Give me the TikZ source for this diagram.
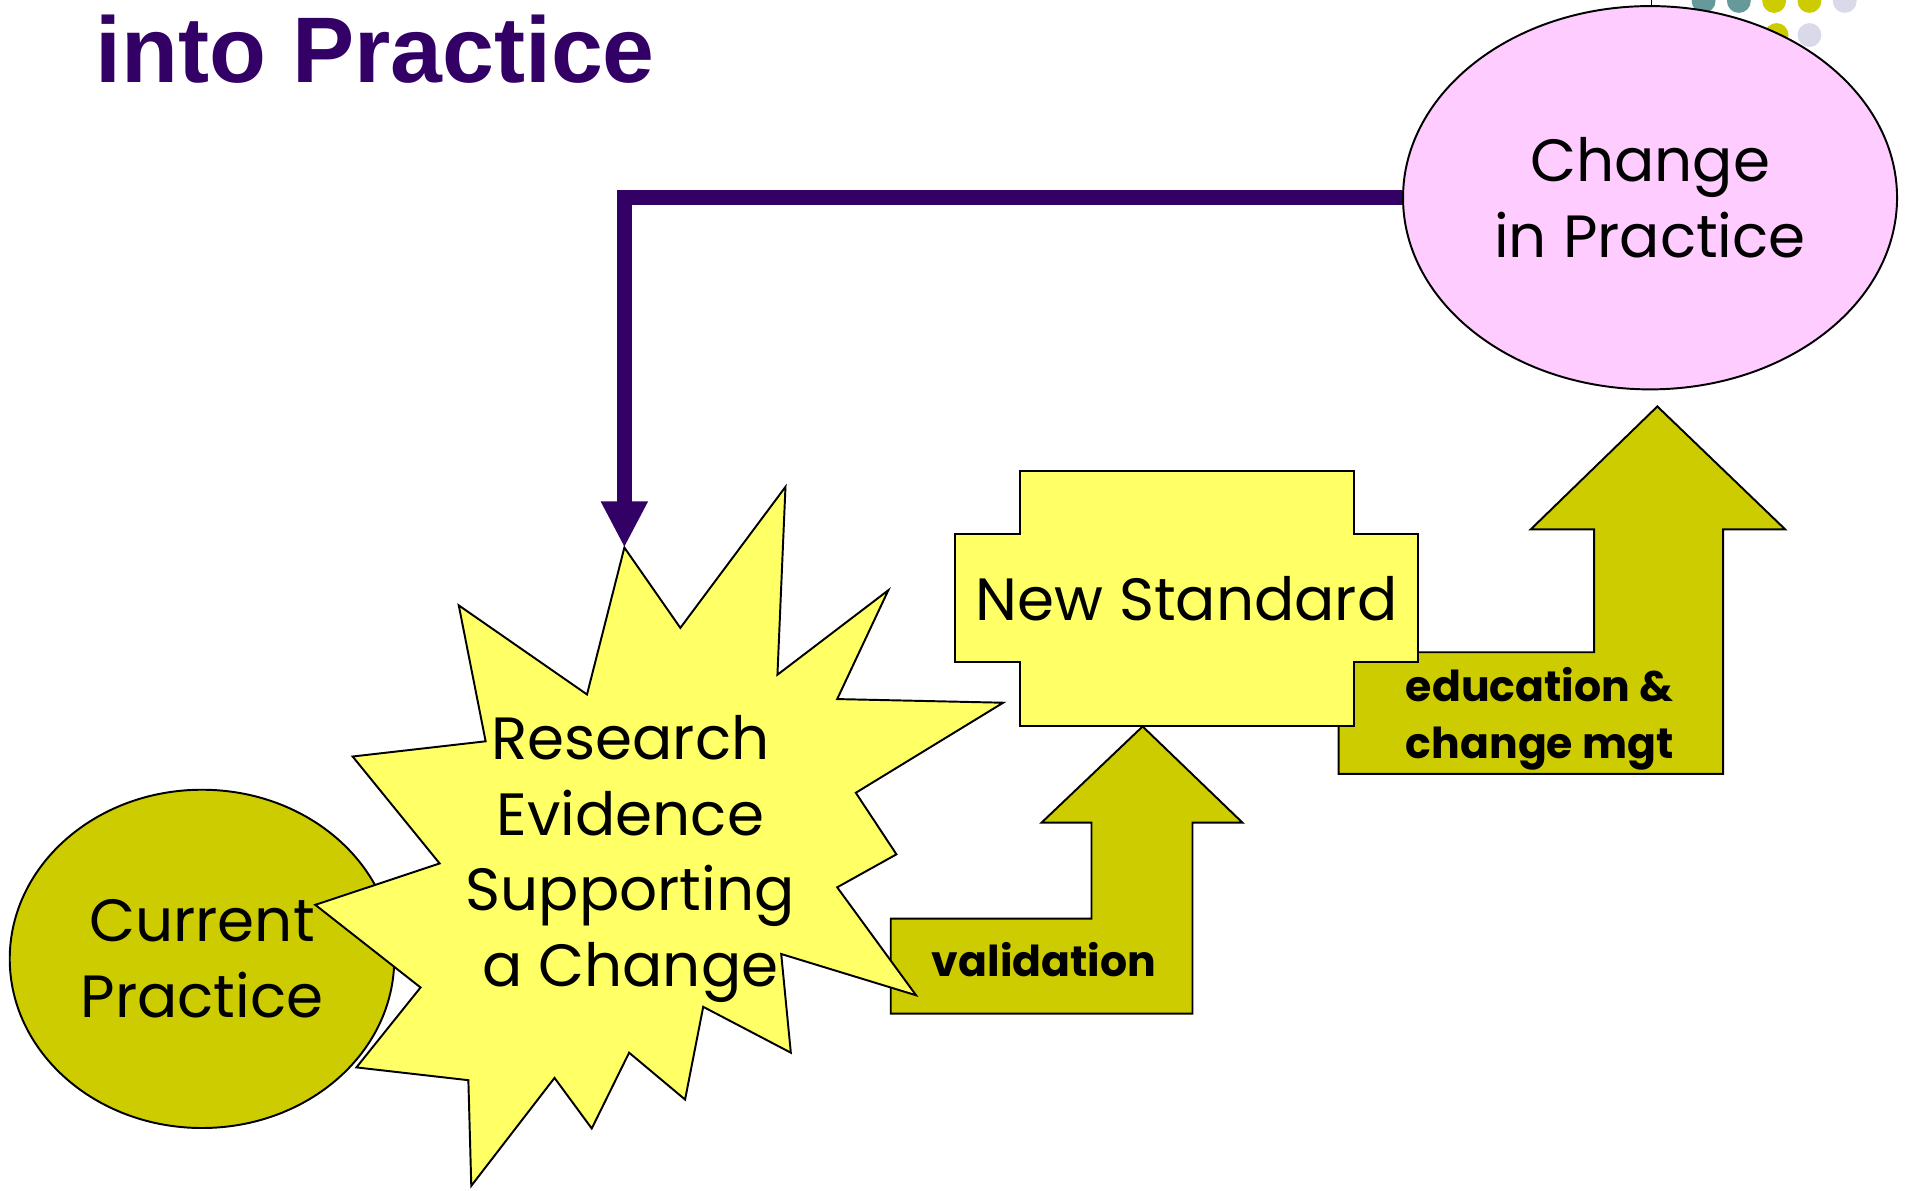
\documentclass[tikz,border=0pt]{standalone}
\usepackage{fontspec}
\setmainfont{Liberation Sans}
\newfontfamily\comic{Poppins}
\usetikzlibrary{shapes.geometric,arrows.meta}
\definecolor{pale}{HTML}{FFFF66}
\definecolor{olive}{HTML}{CCCC00}
\definecolor{pinkfill}{HTML}{FFCCFF}
\definecolor{deeppurple}{HTML}{330066}
\definecolor{tealdot}{HTML}{669999}
\definecolor{lavdot}{HTML}{D9D9EA}
\begin{document}
\begin{tikzpicture}[x=0.5pt,y=-0.5pt,
  shapeline/.style={draw=black,line width=0.8pt,line join=miter},
  bigtext/.style={font=\comic\fontsize{24.5}{31}\selectfont,align=center,inner sep=0pt},
  smalltext/.style={font=\comic\bfseries\fontsize{17.5}{23.5}\selectfont,inner sep=0pt},
  connector/.style={draw=deeppurple,line width=6pt,line join=miter,
    -{Triangle[width=18pt,length=19pt]}}]
\clip (0,0) rectangle (1568,978);
\useasboundingbox (0,0) rectangle (1568,978);
% decorative dots
\fill[tealdot] (1400,0.8) circle[radius=9.8];
\fill[tealdot] (1429,0.8) circle[radius=9.8];
\fill[olive] (1458,0.8) circle[radius=9.8];
\fill[olive] (1487,0.8) circle[radius=9.8];
\fill[lavdot] (1516,0.8) circle[radius=9.8];
\fill[olive] (1460,28.8) circle[radius=9.8];
\fill[lavdot] (1487,28.8) circle[radius=9.8];
\draw[line width=0.6pt] (1357,0) -- (1357,6);
% title
\node[anchor=base west,inner sep=0pt,font=\bfseries\fontsize{38.3}{40}\selectfont,text=deeppurple] (title) at (78,68) {into Practice};
% current practice
\node[ellipse,shapeline,fill=olive,minimum width=158pt,minimum height=139pt,inner sep=0pt,
  bigtext] (cur) at (166,788) {Current\\Practice};
% validation arrow
\draw[shapeline,fill=olive] (732,755) -- (897,755) -- (897,676) -- (856,676) -- (939,597)
  -- (1021,676) -- (980,676) -- (980,833) -- (732,833) -- cycle;
\node[smalltext] (valtext) at (858,789) {validation};
% starburst
\draw[shapeline,fill=pale] (513.1,450.0) -- (559.1,516.0) -- (645.5,400.1) -- (638.9,554.5)
  -- (730.0,485.1) -- (688.0,574.5) -- (824.4,577.5) -- (703.3,651.5) -- (736.7,702.1)
  -- (688.0,729.2) -- (752.8,817.9) -- (642.0,784.0) -- (649.9,865.1) -- (577.9,827.4)
  -- (563.0,903.6) -- (517.0,865.1) -- (486.3,927.4) -- (455.7,885.8) -- (387.3,974.5)
  -- (384.9,887.7) -- (292.9,877.2) -- (345.6,811.5) -- (259.1,743.6) -- (361.3,709.6)
  -- (289.8,621.7) -- (399.1,609.2) -- (377.0,497.5) -- (482.4,570.7) -- cycle;
\coordinate (bursttop) at (513.1,450.0);
\node[bigtext] (research) at (518,706) {Research\\Evidence\\Supporting\\a Change};
% education arrow
\draw[shapeline,fill=olive] (1100,536) -- (1310,536) -- (1310,435) -- (1258,435) -- (1362,334)
  -- (1467,435) -- (1416,435) -- (1416,636) -- (1100,636) -- cycle;
\node[smalltext,align=left,anchor=west] (edutext) at (1155,591) {education \&\\change mgt};
% new standard
\draw[shapeline,fill=pale] (838,387) -- (1113,387) -- (1113,439) -- (1165,439) -- (1165,544)
  -- (1113,544) -- (1113,597) -- (838,597) -- (838,544) -- (785,544) -- (785,439)
  -- (838,439) -- cycle;
\node[bigtext] (newstd) at (975,492) {New Standard};
% change in practice
\node[ellipse,shapeline,fill=pinkfill,minimum width=203pt,minimum height=157.5pt,inner sep=0pt,
  bigtext] (chg) at (1356,162.5) {Change\\in Practice};
% feedback connector
\draw[connector] (chg.west) -| (bursttop);
\end{tikzpicture}
\end{document}
